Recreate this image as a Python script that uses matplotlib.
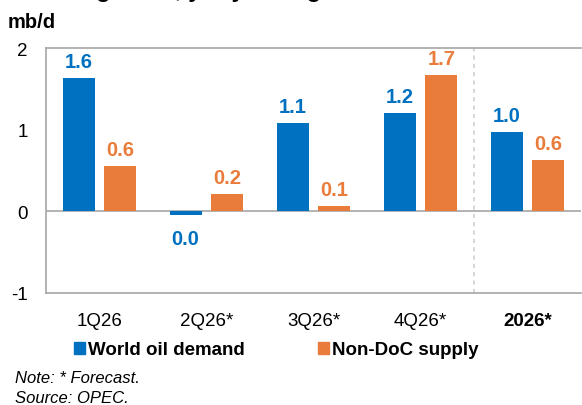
import matplotlib
matplotlib.use('Agg')
import matplotlib.pyplot as plt
from matplotlib.patches import Patch
import numpy as np

plt.rcParams['font.family'] = ['Liberation Sans', 'DejaVu Sans']

# data
categories = ['1Q26', '2Q26*', '3Q26*', '4Q26*', '2026*']
demand = [1.63, -0.05, 1.08, 1.20, 0.97]
supply = [0.55, 0.21, 0.07, 1.67, 0.63]
demand_labels = ['1.6', '0.0', '1.1', '1.2', '1.0']
supply_labels = ['0.6', '0.2', '0.1', '1.7', '0.6']
yticks = [-1, 0, 1, 2]

blue = '#0070C0'
orange = '#E97C3B'
grey = '#A6A6A6'

W, H = 582, 406
fig = plt.figure(figsize=(W / 100, H / 100), dpi=100)
ax = fig.add_axes([46 / W, 1 - 294 / H, 535 / W, 245 / H])

x = np.arange(len(categories))
off = 0.195
bw = 0.3
ax.bar(x - off, demand, bw, color=blue, zorder=3)
ax.bar(x + off, supply, bw, color=orange, zorder=3)

for xi, v, lab in zip(x, demand, demand_labels):
    if v >= 0:
        ax.annotate(lab, (xi - off, v), xytext=(0, 5), textcoords='offset points',
                    ha='center', va='bottom', color=blue, fontsize=14.5, fontweight='bold')
    else:
        ax.annotate(lab, (xi - off, v), xytext=(0, -10), textcoords='offset points',
                    ha='center', va='top', color=blue, fontsize=14.5, fontweight='bold')
for xi, v, lab in zip(x, supply, supply_labels):
    ax.annotate(lab, (xi + off, v), xytext=(0, 5), textcoords='offset points',
                ha='center', va='bottom', color=orange, fontsize=14.5, fontweight='bold')

ax.axhline(0, color=grey, lw=1.2, zorder=2)
ax.axvline(3.5, color='#CFCFCF', lw=1.2, ls=(0, (2.5, 2.5)), zorder=1)

ax.set_xlim(-0.5, 4.5)
ax.set_ylim(-1, 2)
ax.set_yticks(yticks)
ax.set_yticklabels([str(t) for t in yticks], fontsize=13.5)
ax.set_xticks(x)
ax.set_xticklabels(categories, fontsize=13.5)
ax.get_xticklabels()[-1].set_fontweight('bold')
ax.tick_params(axis='x', length=0, pad=14)
ax.tick_params(axis='y', length=0, pad=13)

for s in ['left', 'top', 'bottom']:
    ax.spines[s].set_color(grey)
    ax.spines[s].set_linewidth(1.2)
ax.spines['right'].set_visible(False)

# title mostly cut off at the top of the image
fig.text(-4 / W, 1 + 3 / H, 'Demand growth, y-o-y changes', fontsize=17,
         fontweight='bold', ha='left', va='baseline')
fig.text(8 / W, 1 - 23 / H, 'mb/d', fontsize=14.5, fontweight='bold', va='center')

handles = [Patch(color=blue), Patch(color=orange)]
fig.legend(handles, ['World oil demand', 'Non-DoC supply'], loc='center',
           bbox_to_anchor=(276 / W, 1 - 351 / H), ncol=2, frameon=False,
           prop={'size': 13.5, 'weight': 'bold'}, handlelength=0.6, handleheight=0.6,
           handletextpad=0.15, columnspacing=3.9, borderpad=0)

fig.text(15 / W, 1 - 379 / H, 'Note: * Forecast.', fontsize=12, style='italic', va='center')
fig.text(15 / W, 1 - 399 / H, 'Source: OPEC.', fontsize=12, style='italic', va='center')

fig.savefig('out.png', dpi=100)
